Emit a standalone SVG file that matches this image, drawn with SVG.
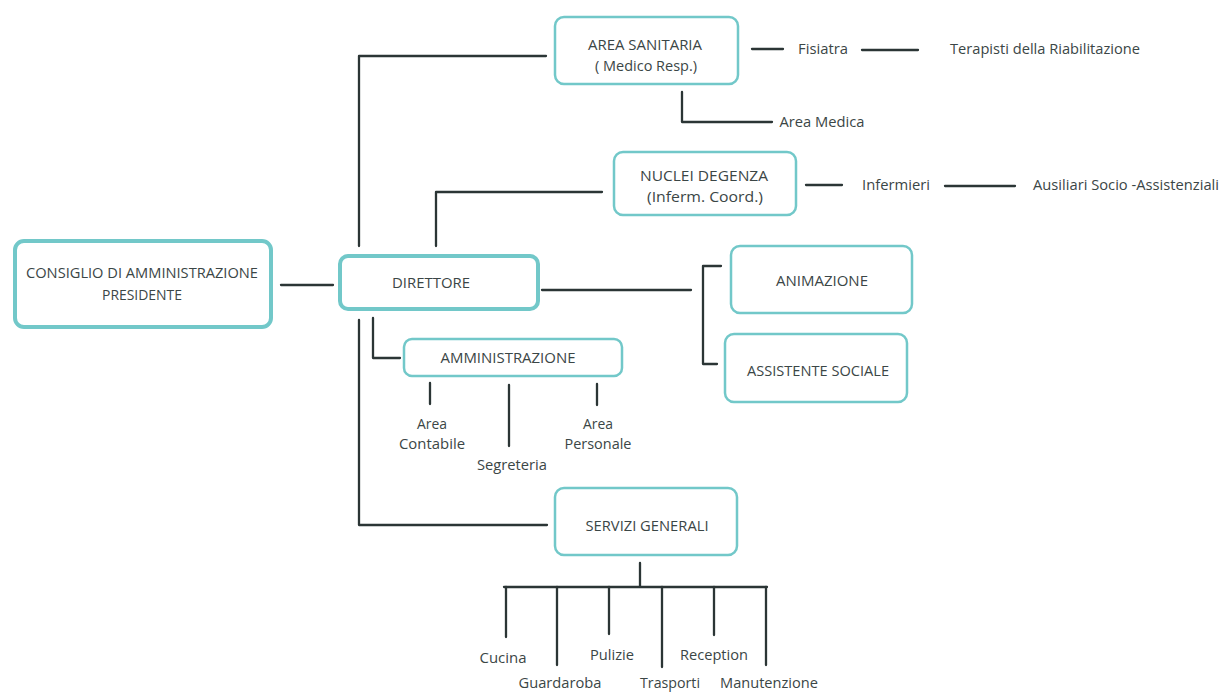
<svg xmlns="http://www.w3.org/2000/svg" width="1220" height="693" viewBox="0 0 1220 693">
<style>
.box{fill:#fff;stroke:#72c8c9;stroke-width:2.5}
.bold{stroke-width:4}
.ln{fill:none;stroke:#2b3535;stroke-width:2.3;stroke-linecap:round;stroke-linejoin:round}
text{font-family:"Open Sans","Liberation Sans",sans-serif;font-size:14.5px;fill:#3b4646;text-anchor:middle}
</style>
<rect width="1220" height="693" fill="#fff"/>
<g id="connectors">
<path class="ln" d="M281 285 H333"/>
<path class="ln" d="M359 246 V56 H546"/>
<path class="ln" d="M436 246 V192 H602"/>
<path class="ln" d="M359 320 V525 H547"/>
<path class="ln" d="M373 318 V358 H400"/>
<path class="ln" d="M542 290 H691"/>
<path class="ln" d="M721 266 H703 V364 H717"/>
<path class="ln" d="M752 49 H783"/>
<path class="ln" d="M862 50 H918"/>
<path class="ln" d="M682 92 V122 H772"/>
<path class="ln" d="M806 185 H842"/>
<path class="ln" d="M945 186 H1015"/>
<path class="ln" d="M430 383 V404"/>
<path class="ln" d="M509 385 V446"/>
<path class="ln" d="M597 384 V405"/>
<path class="ln" d="M640 563 V586"/>
<path class="ln" d="M504 587 H767"/>
<path class="ln" d="M506 587 V637"/>
<path class="ln" d="M557 587 V665"/>
<path class="ln" d="M609 587 V634"/>
<path class="ln" d="M662 587 V667"/>
<path class="ln" d="M714 587 V635"/>
<path class="ln" d="M766 587 V665"/>
</g>
<g id="consiglio">
<rect class="box bold" x="15" y="241" width="256" height="86" rx="9"/>
<text x="142" y="278" textLength="232" lengthAdjust="spacingAndGlyphs">CONSIGLIO DI AMMINISTRAZIONE</text>
<text x="142" y="300" textLength="80" lengthAdjust="spacingAndGlyphs">PRESIDENTE</text>
</g>
<g id="direttore">
<rect class="box bold" x="340" y="256" width="198" height="53" rx="8"/>
<text x="431" y="288" textLength="78" lengthAdjust="spacingAndGlyphs">DIRETTORE</text>
</g>
<g id="area-sanitaria">
<rect class="box" x="555" y="17" width="183" height="67" rx="9"/>
<text x="645" y="50" textLength="114" lengthAdjust="spacingAndGlyphs">AREA SANITARIA</text>
<text x="646" y="71" textLength="102" lengthAdjust="spacingAndGlyphs">( Medico Resp.)</text>
</g>
<g id="fisiatra"><text x="823" y="54" textLength="50" lengthAdjust="spacingAndGlyphs">Fisiatra</text></g>
<g id="terapisti"><text x="1045" y="54" textLength="190" lengthAdjust="spacingAndGlyphs">Terapisti della Riabilitazione</text></g>
<g id="area-medica"><text x="822" y="127" textLength="85" lengthAdjust="spacingAndGlyphs">Area Medica</text></g>
<g id="nuclei-degenza">
<rect class="box" x="614" y="152" width="182" height="63" rx="9"/>
<text x="704" y="181" textLength="128" lengthAdjust="spacingAndGlyphs">NUCLEI DEGENZA</text>
<text x="705" y="202" textLength="116" lengthAdjust="spacingAndGlyphs">(Inferm. Coord.)</text>
</g>
<g id="infermieri"><text x="896" y="190" textLength="68" lengthAdjust="spacingAndGlyphs">Infermieri</text></g>
<g id="ausiliari"><text x="1126" y="190" textLength="186" lengthAdjust="spacingAndGlyphs">Ausiliari Socio -Assistenziali</text></g>
<g id="animazione">
<rect class="box" x="731" y="246" width="181" height="67" rx="9"/>
<text x="822" y="286" textLength="92" lengthAdjust="spacingAndGlyphs">ANIMAZIONE</text>
</g>
<g id="assistente-sociale">
<rect class="box" x="725" y="334" width="182" height="68" rx="9"/>
<text x="818" y="376" textLength="142" lengthAdjust="spacingAndGlyphs">ASSISTENTE SOCIALE</text>
</g>
<g id="amministrazione">
<rect class="box" x="404" y="339" width="218" height="37" rx="8"/>
<text x="508" y="363" textLength="135" lengthAdjust="spacingAndGlyphs">AMMINISTRAZIONE</text>
</g>
<g id="area-contabile">
<text x="432" y="429" textLength="30" lengthAdjust="spacingAndGlyphs">Area</text>
<text x="432" y="449" textLength="66" lengthAdjust="spacingAndGlyphs">Contabile</text>
</g>
<g id="segreteria"><text x="512" y="470" textLength="70" lengthAdjust="spacingAndGlyphs">Segreteria</text></g>
<g id="area-personale">
<text x="598" y="429" textLength="30" lengthAdjust="spacingAndGlyphs">Area</text>
<text x="598" y="449" textLength="67" lengthAdjust="spacingAndGlyphs">Personale</text>
</g>
<g id="servizi-generali">
<rect class="box" x="555" y="488" width="182" height="67" rx="9"/>
<text x="647" y="531" textLength="123" lengthAdjust="spacingAndGlyphs">SERVIZI GENERALI</text>
</g>
<g id="cucina"><text x="503" y="663" textLength="47" lengthAdjust="spacingAndGlyphs">Cucina</text></g>
<g id="guardaroba"><text x="560" y="688" textLength="83" lengthAdjust="spacingAndGlyphs">Guardaroba</text></g>
<g id="pulizie"><text x="612" y="660" textLength="44" lengthAdjust="spacingAndGlyphs">Pulizie</text></g>
<g id="trasporti"><text x="670" y="688" textLength="60" lengthAdjust="spacingAndGlyphs">Trasporti</text></g>
<g id="reception"><text x="714" y="660" textLength="68" lengthAdjust="spacingAndGlyphs">Reception</text></g>
<g id="manutenzione"><text x="769" y="688" textLength="98" lengthAdjust="spacingAndGlyphs">Manutenzione</text></g>
</svg>
